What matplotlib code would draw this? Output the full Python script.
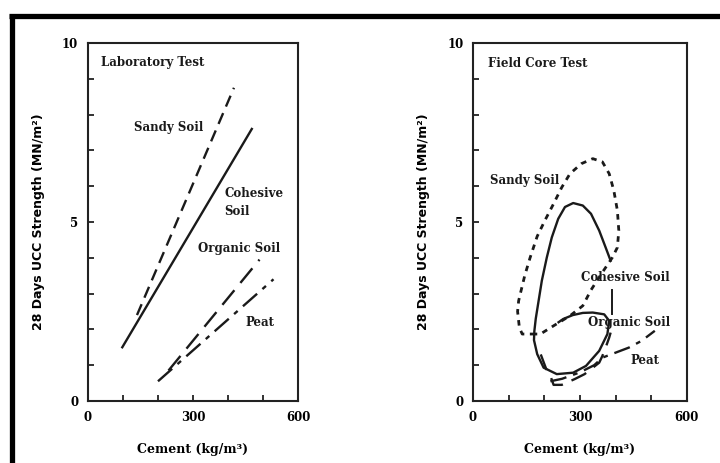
import matplotlib
matplotlib.use("agg")
import matplotlib.pyplot as plt
from matplotlib.lines import Line2D
from matplotlib.ticker import FixedLocator, FuncFormatter

# laboratory test lines (cement kg/m3, UCC MN/m2)
lab_sandy_x = [140, 417]
lab_sandy_y = [2.4, 8.75]
lab_cohesive_x = [98, 468]
lab_cohesive_y = [1.5, 7.6]
lab_organic_x = [230, 490]
lab_organic_y = [0.85, 3.95]
lab_peat_x = [200, 530]
lab_peat_y = [0.55, 3.4]

# field core test envelopes
field_sandy_x = [175, 138, 130, 125, 128, 134, 145, 160, 180, 202, 226, 249, 272, 304, 336,
                 363, 382, 395, 405, 409, 405, 391, 360, 331, 308, 272, 226, 189, 175]
field_sandy_y = [1.87, 1.87, 2.05, 2.5, 2.8, 3.05, 3.5, 4.0, 4.6, 5.05, 5.51,
                 5.97, 6.35, 6.63, 6.77, 6.68, 6.35, 5.88, 5.32, 4.76, 4.29, 4.01, 3.55,
                 3.1, 2.66, 2.38, 2.1, 1.87, 1.87]
field_cohesive_x = [386, 372, 354, 331, 308, 281, 258, 239, 221, 207, 193, 184, 176, 172,
                    171, 180, 198, 235, 281, 317, 354, 377, 382, 368, 336, 308, 280, 253, 240]
field_cohesive_y = [3.92, 4.29, 4.76, 5.23, 5.46, 5.53, 5.42, 5.09, 4.57, 4.01, 3.36, 2.80,
                    2.3, 1.95, 1.7, 1.31, 0.93, 0.75, 0.79, 0.98, 1.40, 1.87, 2.24, 2.42,
                    2.47, 2.46, 2.40, 2.29, 2.2]
field_cohesive_lead_x = [391, 391]
field_cohesive_lead_y = [2.42, 3.1]
field_organic_x = [190, 205, 217, 226, 249, 285, 313, 331, 354, 363, 372, 382, 386]
field_organic_y = [1.3, 0.9, 0.70, 0.45, 0.45, 0.61, 0.75, 0.89, 1.07, 1.26, 1.49, 1.77, 1.91]
field_peat_x = [217, 250, 300, 340, 363, 400, 437, 473, 510]
field_peat_y = [0.55, 0.62, 0.8, 1.0, 1.21, 1.35, 1.49, 1.68, 1.96]

serif = "DejaVu Serif"
sans = "DejaVu Sans"

fig = plt.figure(figsize=(7.2, 4.63), dpi=100)

# outer scan frame
fig.add_artist(Line2D([0.0125, 1.0], [0.9665, 0.9665], color="black", lw=3.8,
                      transform=fig.transFigure, solid_capstyle="butt"))
fig.add_artist(Line2D([0.01736, 0.01736], [0.0, 0.97], color="black", lw=3.8,
                      transform=fig.transFigure, solid_capstyle="butt"))

ax1 = fig.add_axes([0.1222, 0.134, 0.2917, 0.773])
ax2 = fig.add_axes([0.657, 0.134, 0.297, 0.773])


def style(ax):
    ax.set_xlim(0, 600)
    ax.set_ylim(0, 10)
    for s in ax.spines.values():
        s.set_linewidth(1.5)
        s.set_color("#222222")
    ax.xaxis.set_major_locator(FixedLocator(range(0, 700, 100)))
    ax.yaxis.set_major_locator(FixedLocator(range(0, 11)))
    ax.xaxis.set_major_formatter(FuncFormatter(lambda v, p: f"{int(v)}" if v % 300 == 0 else ""))
    ax.yaxis.set_major_formatter(FuncFormatter(lambda v, p: f"{int(v)}" if v % 5 == 0 else ""))
    ax.tick_params(direction="in", length=4, width=1.3, color="#222222",
                   labelsize=8.5, pad=7)
    for lab in ax.get_xticklabels() + ax.get_yticklabels():
        lab.set_fontfamily(serif)
        lab.set_fontweight("bold")
    ax.set_xlabel("Cement (kg/m³)", family=serif, fontweight="bold", fontsize=9,
                  labelpad=14)
    ax.set_ylabel("28 Days UCC Strength (MN/m²)", family=sans, fontweight="bold",
                  fontsize=9, labelpad=12)


style(ax1)
style(ax2)

lw = 1.7
col = "#1a1a1a"
txt = dict(family=serif, fontweight="bold", fontsize=8.5, color=col)

ax1.plot(lab_sandy_x, lab_sandy_y, color=col, lw=lw, dashes=(5, 3))
ax1.plot(lab_cohesive_x, lab_cohesive_y, color=col, lw=lw)
ax1.plot(lab_organic_x, lab_organic_y, color=col, lw=lw, dashes=(8, 4))
ax1.plot(lab_peat_x, lab_peat_y, color=col, lw=lw, dashes=(8, 3, 2, 3))
ax1.text(38, 9.47, "Laboratory Test", va="center", **txt)
ax1.text(132, 7.65, "Sandy Soil", va="center", **txt)
ax1.text(389, 5.55, "Cohesive\nSoil", va="center", linespacing=1.5, **txt)
ax1.text(314, 4.25, "Organic Soil", va="center", **txt)
ax1.text(449, 2.2, "Peat", va="center", **txt)

ax2.plot(field_sandy_x, field_sandy_y, color=col, lw=2.0, dashes=(2, 2))
ax2.plot(field_cohesive_x, field_cohesive_y, color=col, lw=lw)
ax2.plot(field_cohesive_lead_x, field_cohesive_lead_y, color=col, lw=1.4)
ax2.plot(field_organic_x, field_organic_y, color=col, lw=lw, dashes=(7, 4))
ax2.plot(field_peat_x, field_peat_y, color=col, lw=lw, dashes=(7, 3, 2, 3))
ax2.text(42, 9.43, "Field Core Test", va="center", **txt)
ax2.text(47, 6.16, "Sandy Soil", va="center", **txt)
ax2.text(304, 3.45, "Cohesive Soil", va="center", **txt)
ax2.text(322, 2.19, "Organic Soil", va="center", **txt)
ax2.text(441, 1.12, "Peat", va="center", **txt)

plt.savefig("out.png", dpi=100)
plt.close()
